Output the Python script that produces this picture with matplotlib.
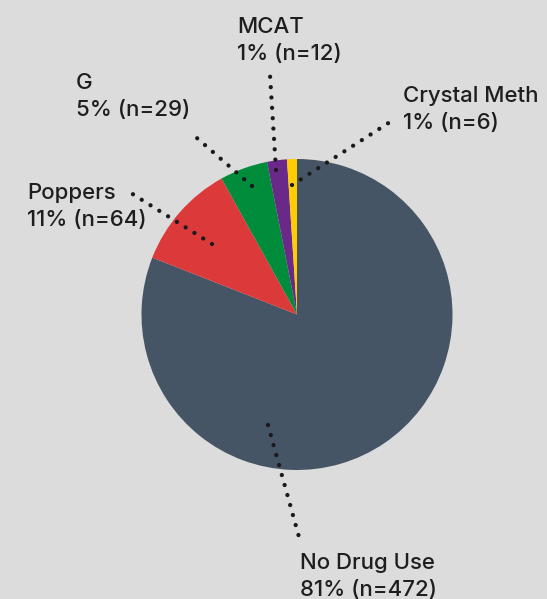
#!/usr/bin/env python3
"""Pie chart of drug use with dotted leader labels."""

import matplotlib

matplotlib.use("Agg")
import matplotlib.pyplot as plt

# Data
categorias = ["No Drug Use", "Poppers", "G", "MCAT", "Crystal Meth"]
conteos = [472, 64, 29, 12, 6]
porcentajes = ["81%", "11%", "5%", "1%", "1%"]
colores = ["#465565", "#dc3a3a", "#008c3a", "#6a2889", "#ffcc00"]

# Layout (pixel coordinates, y down)
W, H = 547, 599
centro = (297, 314.5)
radio = 155.5
# label x, label first line centre y, leader start (in slice), leader end
etiquetas = {
    "No Drug Use": ((300, 561), (268, 425), (299, 537)),
    "Poppers": ((27, 191), (212, 244), (131, 193)),
    "G": ((76, 81), (252, 186), (190, 132)),
    "MCAT": ((237, 25), (276, 170), (270, 75)),
    "Crystal Meth": ((403, 94), (292, 185), (390, 122)),
}
SALTO = 27
FONDO = "#dcdcdc"
TEXTO = "#1e1e1e"


def yy(y):
    return H - y


def main() -> None:
    plt.rcParams["font.family"] = ["Inter", "DejaVu Sans"]
    fig = plt.figure(figsize=(W / 100, H / 100), dpi=100, facecolor=FONDO)
    ax = fig.add_axes([0, 0, 1, 1])

    ax.pie(
        conteos,
        colors=colores,
        startangle=90,
        counterclock=False,
        center=(centro[0], yy(centro[1])),
        radius=radio,
        wedgeprops={"linewidth": 0},
        frame=True,
    )
    ax.set_xlim(0, W)
    ax.set_ylim(0, H)
    ax.set_facecolor(FONDO)
    ax.axis("off")

    estilo = {"fontsize": 16, "fontweight": 500, "color": TEXTO,
              "ha": "left", "va": "center_baseline"}
    for cat, n, pct in zip(categorias, conteos, porcentajes):
        (tx, ty), (x0, y0), (x1, y1) = etiquetas[cat]
        ax.plot(
            [x0, x1],
            [yy(y0), yy(y1)],
            color="#1a1a1a",
            linewidth=3.1,
            linestyle=(0, (0.01, 2.4)),
            dash_capstyle="round",
            zorder=5,
        )
        ax.text(tx, yy(ty), cat, **estilo)
        ax.text(tx, yy(ty + SALTO), f"{pct} (n={n})", **estilo)

    fig.savefig("out.png", dpi=100, facecolor=FONDO)
    plt.close(fig)


if __name__ == "__main__":
    main()
